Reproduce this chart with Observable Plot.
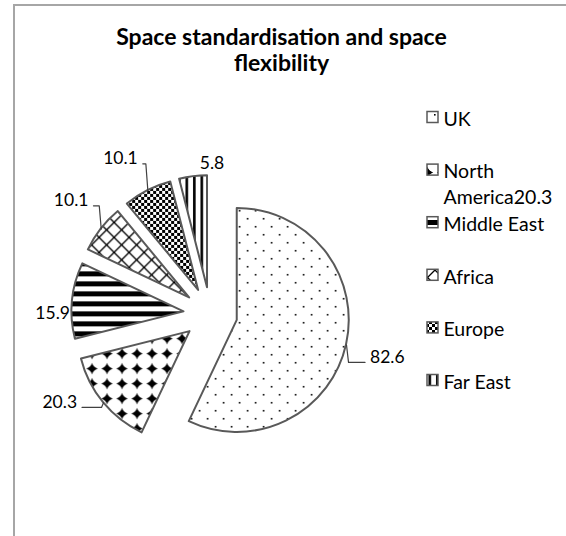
<!DOCTYPE html>
<html><head><meta charset="utf-8">
<script src="https://cdn.jsdelivr.net/npm/d3@7"></script>
<script src="https://cdn.jsdelivr.net/npm/@observablehq/plot@0.6"></script>
<style>
html,body{margin:0;padding:0;background:#fff;}
#wrap{position:relative;width:566px;height:536px;overflow:hidden;}
#frame{position:absolute;left:13px;top:4px;width:570px;height:545px;border:2px solid #a6a6a6;box-sizing:border-box;}
#chart{position:absolute;left:0;top:0;}
</style></head><body>
<div id="wrap"><div id="frame"></div><div id="chart"></div></div>
<script>
// ---- data ----
const categories = ["UK", "North America", "Middle East", "Africa", "Europe", "Far East"];
const values = [82.6, 20.3, 15.9, 10.1, 10.1, 5.8];
const valueLabels = ["82.6", "20.3", "15.9", "10.1", "10.1", "5.8"];
const legendLabels = ["UK", "North\nAmerica20.3", "Middle East", "Africa", "Europe", "Far East"];
const titleLines = ["Space standardisation and space", "flexibility"];

// ---- layout ----
const W = 566, H = 536;
const CX = 210.4, CY = 314, R = 112, EXPLODE = 27;
const labelLayout = [
  {anchor: "start",  dx: 4,    dy: 8,    leader: true},
  {anchor: "end",    dx: -11,  dy: -13,  leader: true},
  {anchor: "middle", dx: 0,    dy: 14,   leader: false},
  {anchor: "end",    dx: 3,    dy: -16,  leader: true},
  {anchor: "end",    dx: -1,   dy: -14,  leader: true},
  {anchor: "middle", dx: 21,   dy: 7,    leader: false}
];
const LEG_X = 427, LEG_Y0 = 117, LEG_STEP = 52.6, LEG_FS = 19.5, LEG_LH = 1.33;

const rows = categories.map((c, i) => ({category: c, value: values[i], label: valueLabels[i], legend: legendLabels[i], i}));
const arcs = d3.pie().sort(null).value(d => d.value).startAngle(0).endAngle(2 * Math.PI)(rows);

// slice geometry derived from data
const slices = arcs.map(a => {
  const m = (a.startAngle + a.endAngle) / 2;
  const sx = Math.sin(m), sy = -Math.cos(m);
  const cx = CX + EXPLODE * sx, cy = CY + EXPLODE * sy;
  return {a, m, cx, cy, ox: cx + R * sx, oy: cy + R * sy, rx: cx + (R + 20) * sx, ry: cy + (R + 20) * sy, d: a.data};
});
const labelRows = slices.map((s, i) => ({x: s.rx + labelLayout[i].dx, y: s.ry + labelLayout[i].dy, text: s.d.label, anchor: labelLayout[i].anchor}));
const leaderRows = [];
slices.forEach((s, i) => {
  const L = labelLayout[i];
  if (!L.leader) return;
  const lab = labelRows[i];
  const px = lab.x + (L.anchor === "start" ? -5 : 5), py = lab.y + 5;
  const ex = s.ox + (L.anchor === "start" ? 2 : -2);
  leaderRows.push({x: s.ox, y: s.oy, k: i}, {x: ex, y: py, k: i}, {x: px, y: py, k: i});
});
const legendRows = rows.map((r, i) => {
  const lines = r.legend.split("\n").length;
  const first = LEG_Y0 + LEG_STEP * i;
  return {x: LEG_X + 16, y: first + (lines - 1) * LEG_LH * LEG_FS / 2, first, text: r.legend, i};
});
const titleRows = titleLines.map((t, i) => ({x: 281, y: 37 + i * 26, text: t}));

function patterns(defs) {
  const p = (id, w, h) => defs.append("pattern").attr("id", id).attr("patternUnits", "userSpaceOnUse").attr("width", w).attr("height", h);
  let t;
  t = p("pat0", 16, 16); t.append("rect").attr("width", 16).attr("height", 16).attr("fill", "#fff");
  t.append("rect").attr("x", 2).attr("y", 2).attr("width", 1.6).attr("height", 1.6).attr("fill", "#000");
  t.append("rect").attr("x", 10).attr("y", 10).attr("width", 1.6).attr("height", 1.6).attr("fill", "#000");
  t = p("pat1", 15, 15); t.append("rect").attr("width", 15).attr("height", 15).attr("fill", "#fff");
  t.append("path").attr("d", "M7.5,1.8L9,5.5L13.2,7.5L9,9.5L7.5,13.2L6,9.5L1.8,7.5L6,5.5Z").attr("fill", "#000");
  t.append("path").attr("d", "M7.5,3.2L11.8,7.5L7.5,11.8L3.2,7.5Z").attr("fill", "#000");
  t = p("pat2", 10, 10); t.append("rect").attr("width", 10).attr("height", 10).attr("fill", "#fff");
  t.append("rect").attr("width", 10).attr("height", 5).attr("fill", "#000");
  t = p("pat3", 15, 15); t.append("rect").attr("width", 15).attr("height", 15).attr("fill", "#fff");
  t.append("path").attr("d", "M0,0L15,15M15,0L0,15M-1,14L1,16M14,-1L16,1").attr("stroke", "#000").attr("stroke-width", 1.3);
  t = p("pat4", 6, 6); t.append("rect").attr("width", 6).attr("height", 6).attr("fill", "#fff");
  t.append("rect").attr("width", 3).attr("height", 3).attr("fill", "#000");
  t.append("rect").attr("x", 3).attr("y", 3).attr("width", 3).attr("height", 3).attr("fill", "#000");
  t = p("pat5", 7.5, 10); t.append("rect").attr("width", 7.5).attr("height", 10).attr("fill", "#fff");
  t.append("rect").attr("x", 1).attr("width", 2.6).attr("height", 10).attr("fill", "#000");
}

function pieMark(index, scales) {
  const g = d3.create("svg:g");
  patterns(g.append("defs"));
  const rpx = scales.x(CX + R) - scales.x(CX);
  const arc = d3.arc().innerRadius(0).outerRadius(rpx);
  g.append("g").selectAll("path").data(slices).join("path")
    .attr("transform", s => `translate(${scales.x(s.cx)},${scales.y(s.cy)})`)
    .attr("d", s => arc(s.a))
    .attr("fill", s => `url(#pat${s.d.i})`)
    .attr("stroke", "#595959").attr("stroke-width", 2).attr("stroke-linejoin", "round");
  g.append("g").selectAll("rect").data(legendRows).join("rect")
    .attr("x", scales.x(LEG_X)).attr("y", d => scales.y(d.first) - 5.5)
    .attr("width", 11).attr("height", 11)
    .attr("fill", d => `url(#pat${d.i})`)
    .attr("stroke", "#595959").attr("stroke-width", 1.5);
  return g.node();
}

const plot = Plot.plot({
  width: W, height: H, margin: 0,
  x: {domain: [0, W], range: [0, W], axis: null},
  y: {domain: [0, H], range: [0, H], axis: null},
  style: {fontFamily: "Lato", background: "transparent", color: "#000"},
  marks: [
    pieMark,
    Plot.line(leaderRows, {x: "x", y: "y", z: "k", stroke: "#404040", strokeWidth: 1.2, curve: "linear"}),
    Plot.text(labelRows.filter(d => d.anchor === "start"), {x: "x", y: "y", text: "text", textAnchor: "start", fontSize: 17.5, fill: "#000"}),
    Plot.text(labelRows.filter(d => d.anchor === "end"), {x: "x", y: "y", text: "text", textAnchor: "end", fontSize: 17.5, fill: "#000"}),
    Plot.text(labelRows.filter(d => d.anchor === "middle"), {x: "x", y: "y", text: "text", textAnchor: "middle", fontSize: 17.5, fill: "#000"}),
    Plot.text(legendRows, {x: "x", y: "y", text: "text", textAnchor: "start", lineAnchor: "middle", lineHeight: LEG_LH, fontSize: LEG_FS, fill: "#000"}),
    Plot.text(titleRows, {x: "x", y: "y", text: "text", textAnchor: "middle", fontSize: 23, fontWeight: "bold", fill: "#000"})
  ]
});
document.getElementById("chart").appendChild(plot);
</script>
</body></html>
